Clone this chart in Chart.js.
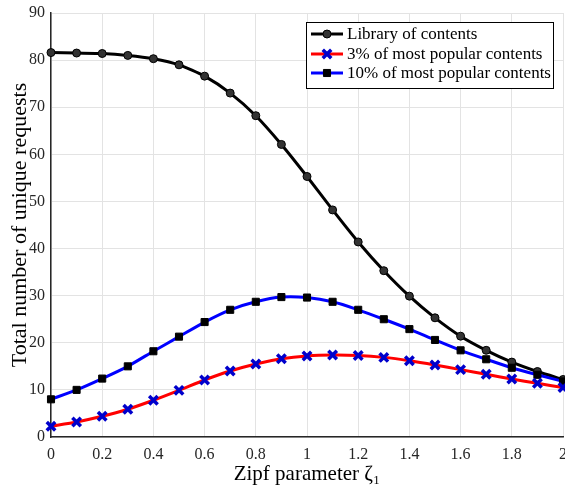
<!DOCTYPE html>
<html>
<head>
<meta charset="utf-8">
<script src="https://cdn.jsdelivr.net/npm/chart.js@4.4.0/dist/chart.umd.min.js"></script>
<style>
  body { margin: 0; background: #fff; }
  #wrap { width: 565px; height: 487px; }
</style>
</head>
<body>
<div id="wrap"><canvas id="zipf"></canvas></div>
<script>
const zipf = [0, 0.1, 0.2, 0.3, 0.4, 0.5, 0.6, 0.7, 0.8, 0.9, 1, 1.1, 1.2, 1.3, 1.4, 1.5, 1.6, 1.7, 1.8, 1.9, 2];
const library = [81.6, 81.5, 81.4, 81.0, 80.3, 79.0, 76.6, 73.0, 68.2, 62.1, 55.3, 48.2, 41.4, 35.3, 29.9, 25.3, 21.4, 18.4, 15.9, 13.9, 12.2];
const top3 = [2.3, 3.2, 4.4, 5.9, 7.8, 9.9, 12.1, 14.0, 15.5, 16.6, 17.2, 17.4, 17.3, 16.9, 16.2, 15.3, 14.3, 13.3, 12.3, 11.4, 10.5];
const top10 = [8.0, 10.0, 12.4, 15.0, 18.2, 21.3, 24.4, 27.0, 28.7, 29.7, 29.6, 28.7, 27.0, 25.0, 22.9, 20.6, 18.4, 16.5, 14.7, 13.2, 11.8];
const seriesNames = ["Library of contents", "3% of most popular contents", "10% of most popular contents"];

const pts = ys => zipf.map((x, i) => ({ x: x, y: ys[i] }));
const serif = "'Liberation Serif', 'Times New Roman', serif";

// legend drawn inside the plot, MATLAB style
const boxLegend = {
  id: "boxLegend",
  afterDraw(chart) {
    const ctx = chart.ctx;
    const x0 = 306, y0 = 22, w = 247, h = 66;
    ctx.save();
    ctx.fillStyle = "#fff";
    ctx.fillRect(x0, y0, w, h);
    ctx.strokeStyle = "#000";
    ctx.lineWidth = 1;
    ctx.strokeRect(x0 + 0.5, y0 + 0.5, w, h);
    const rows = [34, 54, 73];
    // legend order: library, 3%, 10%
    const order = [2, 0, 1];
    rows.forEach((ry, k) => {
      const ds = chart.data.datasets[order[k]];
      ctx.strokeStyle = ds.borderColor;
      ctx.lineWidth = 3;
      ctx.beginPath();
      ctx.moveTo(311, ry);
      ctx.lineTo(343, ry);
      ctx.stroke();
      ctx.fillStyle = ds.pointBackgroundColor;
      ctx.strokeStyle = ds.pointBorderColor;
      ctx.lineWidth = ds.pointBorderWidth;
      Chart.helpers.drawPoint(ctx, {
        pointStyle: ds.pointStyle,
        radius: ds.pointRadius,
        borderWidth: ds.pointBorderWidth
      }, 327, ry);
      ctx.fillStyle = "#000";
      ctx.font = "17px " + serif;
      ctx.textBaseline = "middle";
      ctx.fillText(ds.label, 347, ry + 1);
    });
    ctx.restore();
  }
};

new Chart(document.getElementById("zipf"), {
  type: "line",
  data: {
    datasets: [
      {
        label: seriesNames[1],
        data: pts(top3),
        borderColor: "#ff0000",
        borderWidth: 3,
        pointStyle: "crossRot",
        pointRadius: 6,
        pointBorderWidth: 3.5,
        pointBorderColor: "#0000cc",
        pointBackgroundColor: "#0000cc",
        tension: 0.2,
        clip: false
      },
      {
        label: seriesNames[2],
        data: pts(top10),
        borderColor: "#0000ff",
        borderWidth: 3,
        pointStyle: "rect",
        pointRadius: 5,
        pointBorderWidth: 1,
        pointBorderColor: "#000",
        pointBackgroundColor: "#000",
        tension: 0.2,
        clip: false
      },
      {
        label: seriesNames[0],
        data: pts(library),
        borderColor: "#000000",
        borderWidth: 3,
        pointStyle: "circle",
        pointRadius: 4,
        pointBorderWidth: 1,
        pointBorderColor: "#000",
        pointBackgroundColor: "#333",
        tension: 0.2,
        clip: false
      }
    ]
  },
  plugins: [boxLegend],
  options: {
    responsive: true,
    maintainAspectRatio: false,
    animation: false,
    layout: { autoPadding: false, padding: { top: 13, right: 2, left: 0, bottom: 0 } },
    plugins: {
      legend: { display: false },
      tooltip: { enabled: false }
    },
    scales: {
      x: {
        type: "linear",
        min: 0,
        max: 2,
        afterFit: s => { s.height = 50; s.paddingLeft = 0; s.paddingRight = 0; },
        grid: { color: "#e3e3e3", tickLength: 0, drawTicks: false },
        border: { color: "#262626", width: 1.5 },
        ticks: {
          stepSize: 0.2,
          padding: 8,
          color: "#262626",
          font: { family: serif, size: 16 },
          maxRotation: 0,
          callback: v => Number(v.toFixed(1)).toString()
        },
        title: {
          display: true,
          text: "Zipf parameter \u03b6\u2081",
          color: "#000",
          font: { family: serif, size: 21 },
          padding: { top: 0, bottom: 0 }
        }
      },
      y: {
        min: 0,
        max: 90,
        afterFit: s => { s.width = 51; s.paddingTop = 0; s.paddingBottom = 0; },
        grid: { color: "#e3e3e3", tickLength: 0, drawTicks: false },
        border: { color: "#262626", width: 1.5 },
        ticks: {
          stepSize: 10,
          padding: 6,
          color: "#262626",
          font: { family: serif, size: 16 }
        },
        title: {
          display: true,
          text: "Total number of unique requests",
          color: "#000",
          font: { family: serif, size: 22 },
          padding: { top: 7, bottom: 0 }
        }
      }
    }
  }
});
</script>
</body>
</html>
